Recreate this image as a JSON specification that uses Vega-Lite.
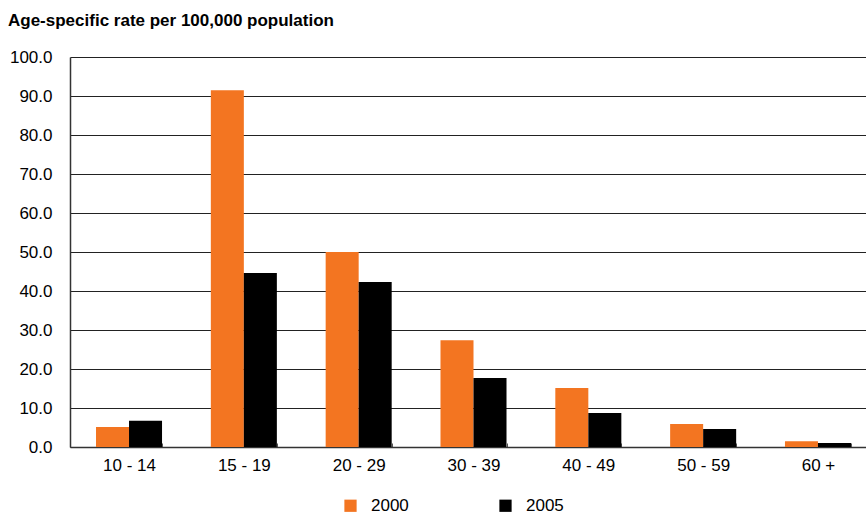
{
  "$schema": "https://vega.github.io/schema/vega-lite/v6.json",
  "width": 807,
  "height": 390,
  "autosize": {"type": "none"},
  "padding": {"left": 70, "top": 57, "right": 0, "bottom": 71},
  "background": "white",
  "title": {
    "text": "Age-specific rate per 100,000 population",
    "anchor": "start",
    "frame": "group",
    "dx": -62,
    "offset": 18,
    "font": "Liberation Sans",
    "fontSize": 17,
    "fontWeight": "bold",
    "color": "#000000"
  },
  "config": {
    "view": {"stroke": null},
    "font": "Liberation Sans",
    "axis": {"labelFont": "Liberation Sans", "labelColor": "#000000"},
    "legend": {"labelFont": "Liberation Sans"}
  },
  "data": {
    "values": [
      {"age": "10 - 14", "year": "2000", "rate": 5.1},
      {"age": "10 - 14", "year": "2005", "rate": 6.7},
      {"age": "15 - 19", "year": "2000", "rate": 91.5},
      {"age": "15 - 19", "year": "2005", "rate": 44.6},
      {"age": "20 - 29", "year": "2000", "rate": 50.0},
      {"age": "20 - 29", "year": "2005", "rate": 42.3},
      {"age": "30 - 39", "year": "2000", "rate": 27.4},
      {"age": "30 - 39", "year": "2005", "rate": 17.7},
      {"age": "40 - 49", "year": "2000", "rate": 15.1},
      {"age": "40 - 49", "year": "2005", "rate": 8.7},
      {"age": "50 - 59", "year": "2000", "rate": 5.9},
      {"age": "50 - 59", "year": "2005", "rate": 4.6},
      {"age": "60 +", "year": "2000", "rate": 1.5},
      {"age": "60 +", "year": "2005", "rate": 1.0}
    ]
  },
  "mark": {"type": "bar"},
  "encoding": {
    "x": {
      "field": "age",
      "type": "nominal",
      "sort": null,
      "scale": {"paddingInner": 0.425, "paddingOuter": 0.2265},
      "axis": {
        "title": null,
        "labelAngle": 0,
        "labelFontSize": 17,
        "labelPadding": 14,
        "tickBand": "extent",
        "tickSize": -4,
        "tickColor": "#555555",
        "tickWidth": 1,
        "domainColor": "#333333",
        "domainWidth": 1.5,
        "grid": false
      }
    },
    "xOffset": {"field": "year", "type": "nominal", "scale": {"paddingInner": 0, "paddingOuter": 0}},
    "y": {
      "field": "rate",
      "type": "quantitative",
      "scale": {"domain": [0, 100], "nice": false},
      "axis": {
        "title": null,
        "values": [0, 10, 20, 30, 40, 50, 60, 70, 80, 90, 100],
        "format": ".1f",
        "labelFontSize": 17,
        "labelPadding": 18,
        "ticks": false,
        "domainColor": "#333333",
        "domainWidth": 1.5,
        "grid": true,
        "gridColor": "#222222",
        "gridWidth": 1.2
      }
    },
    "color": {
      "field": "year",
      "type": "nominal",
      "scale": {"domain": ["2000", "2005"], "range": ["#F37521", "#000000"]},
      "legend": {
        "title": null,
        "orient": "none",
        "direction": "horizontal",
        "legendX": 272,
        "legendY": 440,
        "symbolType": "square",
        "symbolSize": 150,
        "symbolStrokeWidth": 0,
        "labelFontSize": 17,
        "labelOffset": 12,
        "columnPadding": 88,
        "labelColor": "#000000"
      }
    }
  }
}
